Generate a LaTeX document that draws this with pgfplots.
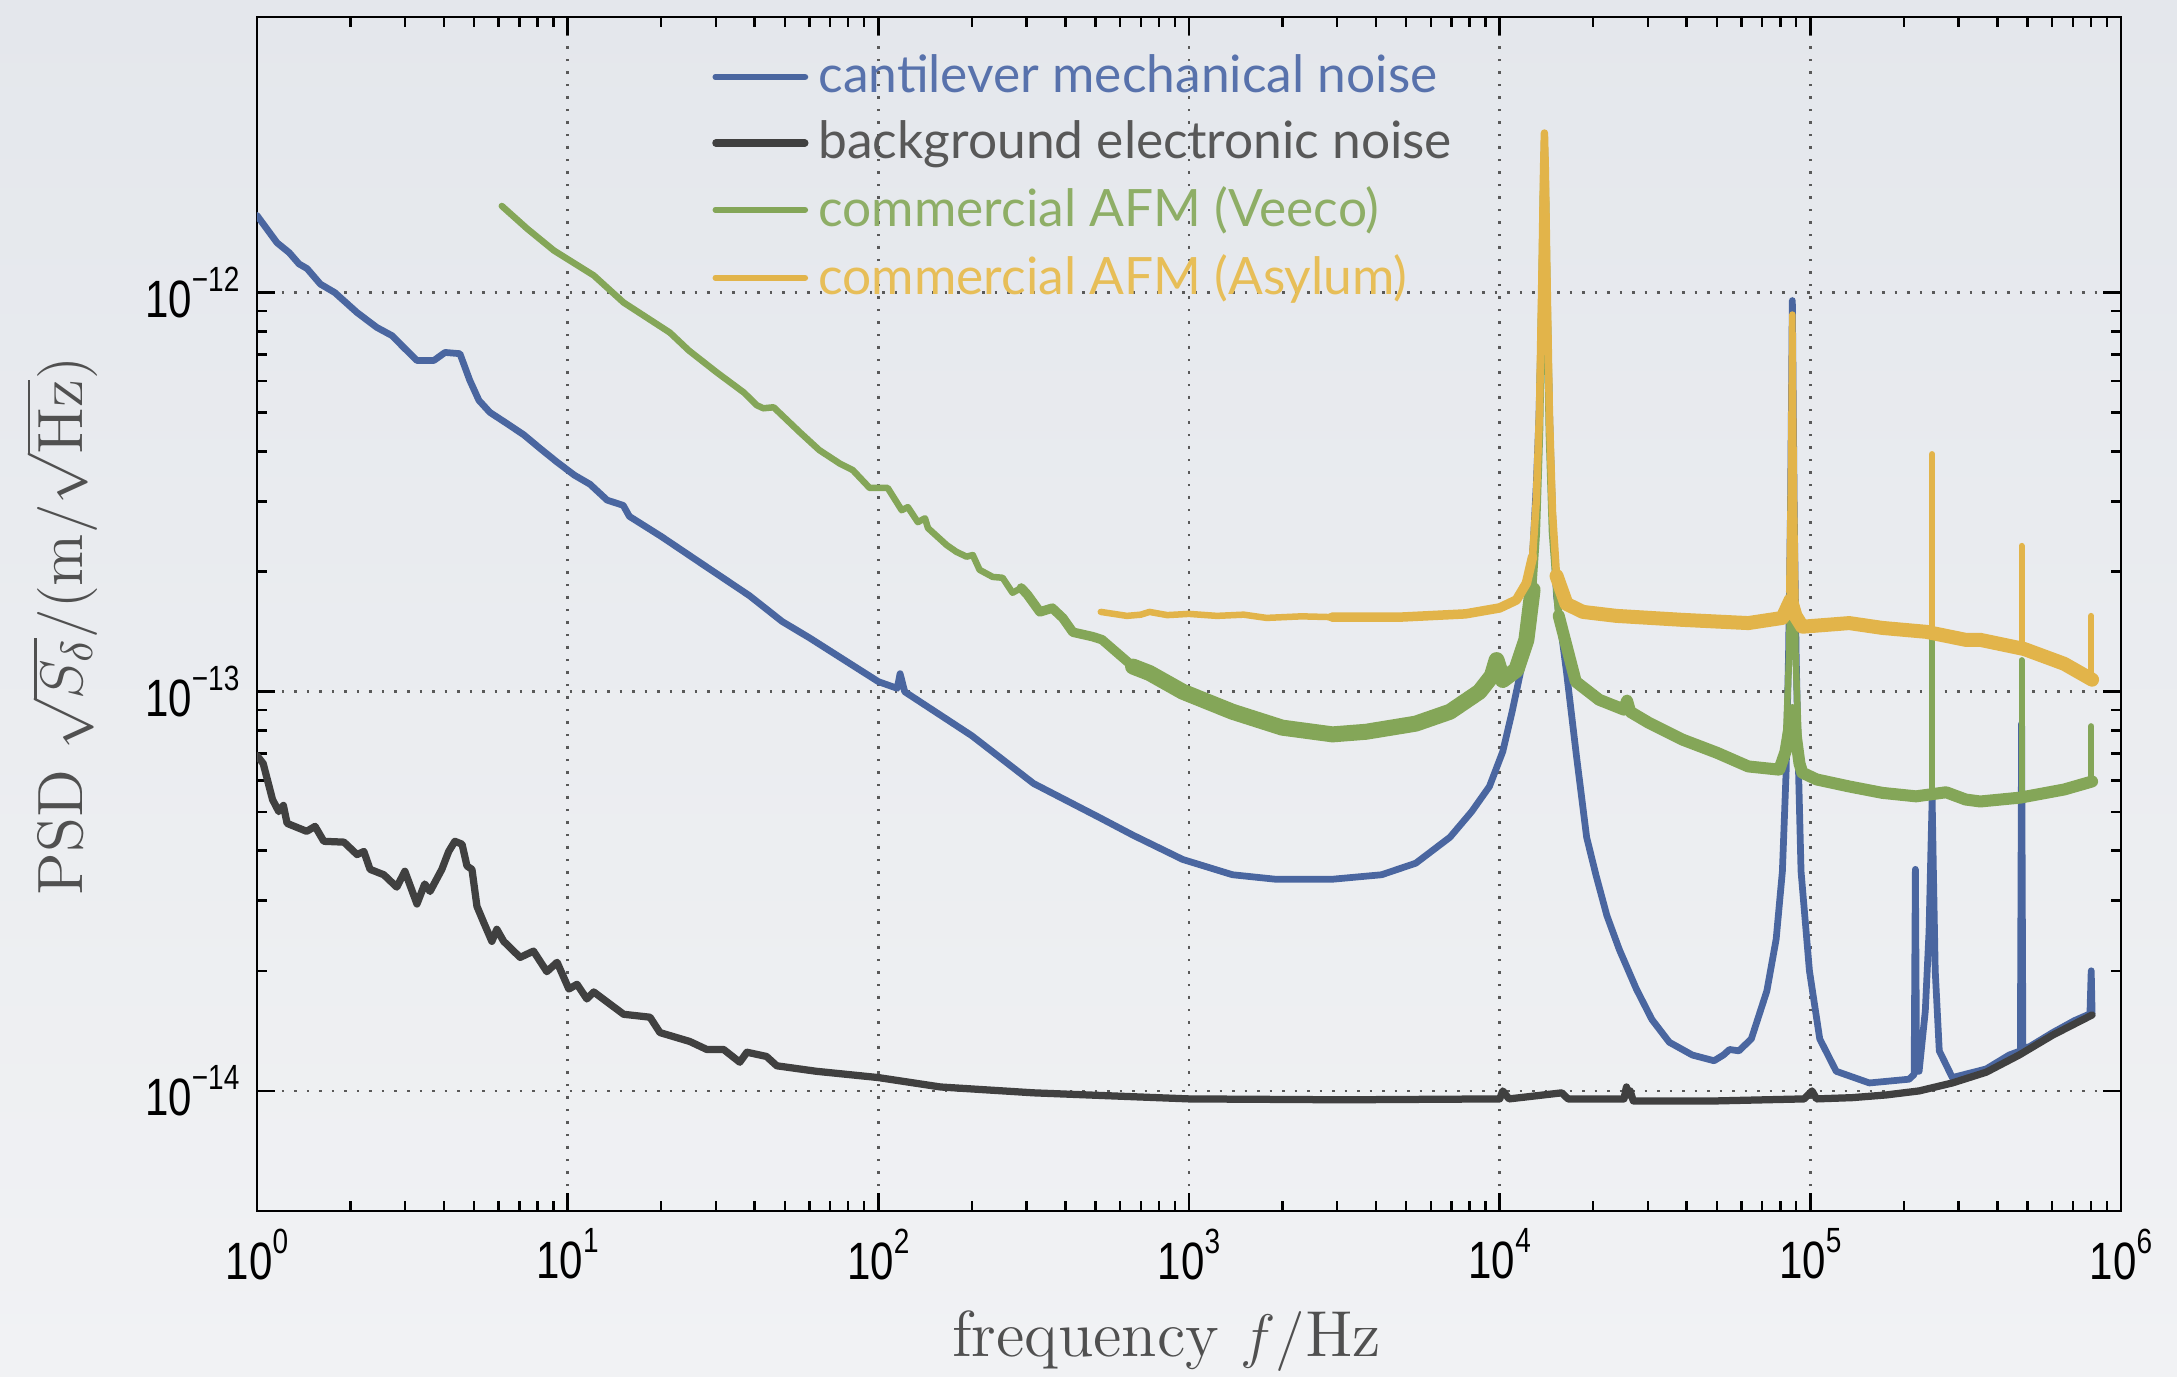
\documentclass[border=0pt]{standalone}
\usepackage{fontspec}
\usepackage{graphicx}
\usepackage{pgfplots}
\pgfplotsset{compat=1.18}
\usetikzlibrary{backgrounds}
\newfontfamily\tickfont{Liberation Sans}
\newfontfamily\legfont{Lato}
\definecolor{cblue}{RGB}{74,102,160}
\definecolor{cgray}{RGB}{64,64,64}
\definecolor{cgreen}{RGB}{132,166,88}
\definecolor{cyellow}{RGB}{226,180,74}
\definecolor{tblue}{RGB}{88,114,172}
\definecolor{tgray}{RGB}{88,88,88}
\definecolor{tgreen}{RGB}{142,174,102}
\definecolor{tyellow}{RGB}{231,190,88}
\definecolor{labgray}{RGB}{80,80,80}
\definecolor{bgtop}{RGB}{228,231,236}
\definecolor{bgbot}{RGB}{241,242,244}
\newcommand{\dec}[1]{\scalebox{0.8}[1]{10\raisebox{5.2pt}{\fontsize{7}{7}\selectfont#1}}}

\begin{document}
\begin{tikzpicture}
\begin{axis}[
  name=ax,
  scale only axis, width=372.8pt, height=238.8pt,
  xmode=log, ymode=log,
  xmin=1, xmax=1e6, ymin=5e-15, ymax=4.9e-12,
  xtick={1,10,100,1000,10000,100000,1000000},
  xticklabels={\dec{0},\dec{1},\dec{2},\dec{3},\dec{4},\dec{5},\dec{6}},
  ytick={1e-14,1e-13,1e-12},
  yticklabels={\dec{−14},\dec{−13},\dec{−12}},
  tick label style={font=\tickfont\fontsize{10.5}{12}\selectfont, black},
  tick align=inside,
  major tick length=3.6pt, minor tick length=2pt,
  axis line style={line width=0.5pt},
  every tick/.style={black, line width=0.5pt},
  grid=major,
  major grid style={black!65, line width=0.5pt, dash pattern=on 0.5pt off 2pt},
  xlabel={frequency $f/\mathrm{Hz}$},
  ylabel={PSD $\sqrt{S_\delta}/(\mathrm{m}/\sqrt{\mathrm{Hz}})$},
  every axis x label/.style={at={(rel axis cs:0.488,0)}, yshift=-26pt, anchor=center,
    inner sep=0pt, font=\fontsize{13}{15}\selectfont, text=labgray},
  every axis y label/.style={at={(rel axis cs:-0.105,0.49)}, rotate=90, anchor=center,
    inner sep=0pt, font=\fontsize{12.8}{15}\selectfont, text=labgray},
  legend style={at={(rel axis cs:0.2437,0.978)}, anchor=north west, draw=none, fill=none,
    font=\legfont\fontsize{10.3}{12}\selectfont, row sep=0.1pt, inner sep=0pt},
  legend cell align=left,
  legend image code/.code={\path (0pt,0pt) -- (17.8pt,0pt); \draw[#1, line width=1.2pt] (0pt,0pt) -- (15.3pt,0pt);},
  every axis plot/.append style={line join=round, line cap=round},
]

% cantilever mechanical noise
\addplot[color=cblue, line width=1.35pt] coordinates {
(1,1.56e-12) (1.16,1.333e-12) (1.27,1.259e-12) (1.365,1.18e-12) (1.45,1.148e-12)
(1.6,1.05e-12) (1.78,1.0e-12) (2.1,8.91e-13) (2.43,8.18e-13) (2.72,7.8e-13)
(2.96,7.3e-13) (3.27,6.76e-13) (3.71,6.76e-13) (4.03,7.08e-13) (4.5,7.03e-13)
(4.84,6.03e-13) (5.18,5.37e-13) (5.62,5.01e-13) (6.37,4.70e-13) (7.23,4.40e-13)
(8.15,4.07e-13) (9.25,3.76e-13) (10.5,3.49e-13) (11.8,3.31e-13) (13.4,3.02e-13)
(15.1,2.93e-13) (15.8,2.75e-13) (20,2.45e-13) (26.6,2.11e-13) (38.5,1.74e-13)
(49,1.50e-13) (60,1.365e-13) (100,1.06e-13) (115,1.02e-13) (117.5,1.11e-13)
(121.6,1.0e-13) (200,7.76e-14) (316,5.89e-14) (515,4.84e-14) (661,4.37e-14)
(955,3.80e-14) (1380,3.48e-14) (1905,3.39e-14) (2884,3.39e-14) (4169,3.48e-14)
(5370,3.72e-14) (6918,4.32e-14) (8128,5.01e-14) (9268,5.79e-14) (10230,7.08e-14)
(10965,8.91e-14) (11750,1.148e-13) (12470,1.80e-13) (12820,2.34e-13) (13120,3.31e-13)
(13370,4.79e-13) (13580,7.59e-13) (13740,1.259e-12) (13870,2.09e-12) (13930,2.40e-12)
(14000,2.09e-12) (14130,1.259e-12) (14290,7.59e-13) (14520,4.47e-13) (14790,2.82e-13)
(15240,1.74e-13) (16410,1.12e-13) (17660,6.92e-14) (19050,4.32e-14) (20420,3.47e-14)
(22130,2.75e-14) (24270,2.26e-14) (27540,1.80e-14) (30900,1.51e-14) (35160,1.324e-14)
(41690,1.23e-14) (48980,1.19e-14) (52480,1.23e-14) (54950,1.27e-14) (58880,1.26e-14)
(64570,1.35e-14) (72440,1.78e-14) (77620,2.40e-14) (81280,3.55e-14) (83560,6.31e-14)
(85110,1.259e-13) (86300,2.82e-13) (87100,6.31e-13) (87500,9.55e-13) (87900,6.31e-13)
(88720,2.82e-13) (89950,1.259e-13) (91620,6.31e-14) (93330,3.55e-14) (99310,2.0e-14)
(107200,1.35e-14) (121100,1.12e-14) (154900,1.047e-14) (208000,1.07e-14) (215800,1.10e-14)
(217800,3.59e-14) (219800,1.12e-14) (223900,1.12e-14) (234400,1.585e-14) (241000,2.51e-14)
(244300,3.98e-14) (246600,5.37e-14) (248900,3.55e-14) (252300,2.0e-14) (260000,1.26e-14)
(286400,1.08e-14) (368100,1.135e-14) (436500,1.23e-14) (474200,1.26e-14) (478600,8.32e-14)
(483100,1.28e-14) (507000,1.29e-14) (602600,1.40e-14) (707900,1.50e-14) (794300,1.56e-14)
(801700,2.0e-14) (807000,1.56e-14)
};
\addlegendentry[text=tblue]{cantilever mechanical noise}

% background electronic noise
\addplot[color=cgray, line width=1.45pt] coordinates {
(1,6.92e-14) (1.047,6.61e-14) (1.122,5.37e-14) (1.175,5.01e-14) (1.216,5.19e-14)
(1.25,4.68e-14) (1.445,4.47e-14) (1.538,4.60e-14) (1.641,4.22e-14) (1.905,4.20e-14)
(2.099,3.91e-14) (2.208,3.98e-14) (2.312,3.59e-14) (2.559,3.48e-14) (2.818,3.24e-14)
(2.992,3.55e-14) (3.273,2.94e-14) (3.467,3.30e-14) (3.606,3.16e-14) (3.936,3.59e-14)
(4.140,3.98e-14) (4.335,4.22e-14) (4.571,4.15e-14) (4.742,3.66e-14) (4.920,3.59e-14)
(5.105,2.90e-14) (5.370,2.64e-14) (5.702,2.37e-14) (5.916,2.54e-14) (6.223,2.37e-14)
(7.031,2.16e-14) (7.762,2.24e-14) (8.570,1.99e-14) (9.247,2.10e-14) (10.09,1.80e-14)
(10.72,1.85e-14) (11.53,1.70e-14) (12.13,1.77e-14) (15.14,1.556e-14) (18.41,1.53e-14)
(19.82,1.40e-14) (24.72,1.33e-14) (28.05,1.27e-14) (31.77,1.27e-14) (35.81,1.18e-14)
(37.76,1.25e-14) (43.65,1.22e-14) (47.10,1.156e-14) (63.1,1.12e-14) (100,1.08e-14)
(158.5,1.023e-14) (316.2,9.89e-15) (1000,9.55e-15) (3162,9.5e-15) (10000,9.55e-15)
(10230,1.0e-14) (10720,9.55e-15) (15850,9.89e-15) (16600,9.55e-15) (25120,9.55e-15)
(25590,1.023e-14) (26000,9.77e-15) (26300,1.0e-14) (26920,9.44e-15) (50120,9.44e-15)
(95500,9.55e-15) (101200,1.0e-14) (104700,9.55e-15) (136500,9.62e-15) (175400,9.77e-15)
(223900,1.0e-14) (286400,1.047e-14) (368100,1.114e-14) (469900,1.23e-14) (602600,1.38e-14)
(807000,1.55e-14)
};
\addlegendentry[text=tgray]{background electronic noise}

% commercial AFM (Veeco)
\addplot[color=cgreen, line width=1.3pt] coordinates {
(6.138,1.648e-12) (7.413,1.445e-12) (9.036,1.274e-12) (12.13,1.104e-12) (15.14,9.44e-13)
(21.33,7.94e-13) (24.55,7.16e-13) (30.2,6.31e-13) (36.9,5.62e-13) (40.64,5.22e-13)
(42.66,5.13e-13) (46.03,5.16e-13) (55.85,4.47e-13) (64.57,4.03e-13) (75.16,3.73e-13)
(82.79,3.59e-13) (93.76,3.24e-13) (107.2,3.24e-13) (118.9,2.85e-13) (124.5,2.90e-13)
(134,2.66e-13) (141.3,2.72e-13) (144.5,2.57e-13) (166,2.33e-13) (178.6,2.24e-13)
(192.3,2.18e-13) (201.4,2.20e-13) (211.8,2.02e-13) (233.3,1.94e-13) (251.2,1.93e-13)
(270.4,1.77e-13) (288.4,1.82e-13)
};
\addlegendentry[text=tgreen]{commercial AFM (Veeco)}
\addplot[color=cgreen, line width=1.9pt, forget plot] coordinates {
(288.4,1.82e-13) (302,1.75e-13) (331.1,1.585e-13) (363.1,1.62e-13) (392.6,1.53e-13)
(422.7,1.41e-13) (489.8,1.374e-13) (524.8,1.35e-13) (660.7,1.156e-13)
};
\addplot[color=cgreen, line width=3.2pt, forget plot] coordinates {
(660.7,1.156e-13) (746.4,1.114e-13) (955,1.0e-13) (1380,8.91e-14) (1995,8.13e-14)
(2897,7.82e-14) (3715,7.94e-14) (5370,8.32e-14) (6918,8.91e-14) (8610,1.0e-13)
(9441,1.096e-13) (9772,1.20e-13) (10230,1.07e-13) (11320,1.135e-13) (12190,1.35e-13)
(12760,1.80e-13)
};
\addplot[color=cgreen, line width=1.5pt, forget plot] coordinates {
(12190,1.35e-13) (12760,1.80e-13) (13120,2.51e-13) (13430,4.47e-13) (13680,1.0e-12)
(13840,1.778e-12) (13930,2.24e-12) (14030,1.778e-12) (14190,1.0e-12) (14450,4.47e-13)
(14790,2.51e-13) (15490,1.55e-13)
};
\addplot[color=cgreen, line width=2.4pt, forget plot] coordinates {
(15490,1.55e-13) (17580,1.06e-13) (20890,9.55e-14) (25120,9.02e-14) (25700,9.5e-14)
(26300,8.91e-14) (30200,8.36e-14) (38730,7.59e-14) (50120,7.03e-14) (63100,6.50e-14)
(79430,6.38e-14) (83180,7.08e-14) (87500,9.0e-14) (92260,6.61e-14) (94190,6.27e-14)
(104700,6.03e-14) (133400,5.79e-14) (170600,5.58e-14) (218800,5.47e-14) (273500,5.6e-14)
(316200,5.37e-14) (352400,5.31e-14) (474200,5.43e-14) (656100,5.69e-14) (807000,5.96e-14)
};
\addplot[color=cgreen, line width=1.3pt, forget plot] coordinates {
(83180,7.08e-14) (85510,1.259e-13) (86700,3.16e-13) (87500,5.01e-13) (88310,3.16e-13)
(89540,1.259e-13) (92260,6.61e-14)
};
\addplot[color=cgreen, line width=1.2pt, forget plot] coordinates {(246600,5.5e-14) (246600,1.35e-13)};
\addplot[color=cgreen, line width=1.2pt, forget plot] coordinates {(478600,5.43e-14) (478600,1.20e-13)};
\addplot[color=cgreen, line width=1.2pt, forget plot] coordinates {(801700,5.9e-14) (801700,8.2e-14)};

% commercial AFM (Asylum)
\addplot[color=cyellow, line width=1.3pt] coordinates {
(520,1.585e-13) (631,1.549e-13) (700,1.56e-13) (746,1.585e-13) (851,1.556e-13)
(1000,1.567e-13) (1230,1.549e-13) (1500,1.56e-13) (1778,1.531e-13) (2300,1.545e-13)
(2884,1.538e-13)
};
\addlegendentry[text=tyellow]{commercial AFM (Asylum)}
\addplot[color=cyellow, line width=1.9pt, forget plot] coordinates {
(2884,1.538e-13) (4786,1.538e-13) (7762,1.567e-13) (10000,1.622e-13) (11320,1.698e-13)
(12190,1.871e-13) (12760,2.178e-13)
};
\addplot[color=cyellow, line width=1.5pt, forget plot] coordinates {
(12190,1.871e-13) (12760,2.178e-13) (13120,3.02e-13) (13430,5.01e-13) (13680,1.122e-12)
(13840,2.0e-12) (13930,2.51e-12) (14030,2.0e-12) (14190,1.122e-12) (14450,5.01e-13)
(14790,2.82e-13) (15240,1.95e-13)
};
\addplot[color=cyellow, line width=2.8pt, forget plot] coordinates {
(15240,1.95e-13) (16410,1.66e-13) (18540,1.585e-13) (23770,1.549e-13) (38730,1.514e-13)
(63100,1.486e-13) (81280,1.531e-13) (86500,1.70e-13) (89540,1.55e-13) (94190,1.455e-13)
(133400,1.486e-13) (170600,1.445e-13) (236000,1.413e-13) (316200,1.349e-13) (352400,1.349e-13)
(488700,1.279e-13) (656100,1.175e-13) (807000,1.072e-13)
};
\addplot[color=cyellow, line width=1.3pt, forget plot] coordinates {
(85510,1.78e-13) (86500,3.16e-13) (87500,8.81e-13) (88510,3.16e-13) (89540,1.66e-13)
};
\addplot[color=cyellow, line width=1.2pt, forget plot] coordinates {(246600,1.41e-13) (246600,3.94e-13)};
\addplot[color=cyellow, line width=1.2pt, forget plot] coordinates {(478600,1.29e-13) (478600,2.32e-13)};
\addplot[color=cyellow, line width=1.2pt, forget plot] coordinates {(801700,1.08e-13) (801700,1.549e-13)};
\end{axis}
\begin{scope}[on background layer]
\shade[top color=bgtop, bottom color=bgbot]
  ([xshift=-51.4pt,yshift=-33pt]ax.south west) rectangle ([xshift=11.2pt,yshift=3.4pt]ax.north east);
\end{scope}
\pgfresetboundingbox
\path[use as bounding box]
  ([xshift=-51.4pt,yshift=-33pt]ax.south west) rectangle ([xshift=11.2pt,yshift=3.4pt]ax.north east);
\end{tikzpicture}
\end{document}
